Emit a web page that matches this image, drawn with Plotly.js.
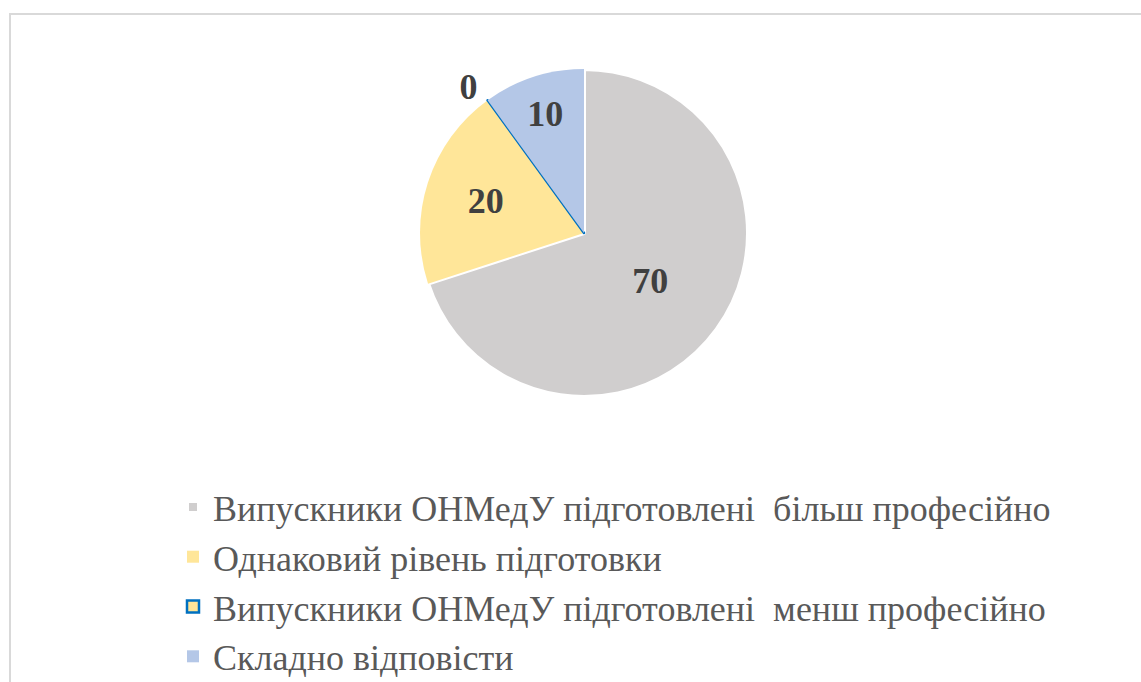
<!DOCTYPE html>
<html>
<head>
<meta charset="utf-8">
<script src="https://cdn.plot.ly/plotly-3.0.1.min.js"></script>
<style>
html,body{margin:0;padding:0;background:#fff;}
#chart{width:1141px;height:682px;}
</style>
</head>
<body>
<div id="chart"></div>
<script>
const labels = [
  "Випускники ОНМедУ підготовлені  більш професійно",
  "Однаковий рівень підготовки",
  "Випускники ОНМедУ підготовлені  менш професійно",
  "Складно відповісти"
];
const values = [70, 20, 0, 10];
const colors = ["#d0cece", "#ffe699", "#ffe699", "#b4c7e7"];
const lineColors = ["#ffffff", "#ffffff", "#0070c0", "#ffffff"];
const lineWidths = [4, 0, 2.5, 0];

const W = 1141, H = 682;
const cx = 584, cy = 233, r = 164;

const trace = {
  type: "pie",
  labels: labels,
  values: values,
  sort: false,
  direction: "clockwise",
  rotation: 0,
  marker: {colors: colors, line: {color: lineColors, width: lineWidths}},
  textinfo: "value",
  textposition: ["inside", "inside", "outside", "inside"],
  insidetextorientation: "horizontal",
  textfont: {family: "Liberation Serif", size: 36, color: "#404040", weight: "bold"},
  outsidetextfont: {family: "Liberation Serif", size: 36, color: "#404040", weight: "bold"},
  hoverinfo: "label+value",
  domain: {x: [(cx - r) / W, (cx + r) / W], y: [1 - (cy + r) / H, 1 - (cy - r) / H]}
};

const layout = {
  width: W, height: H,
  margin: {l: 0, r: 0, t: 0, b: 0, autoexpand: false},
  paper_bgcolor: "#ffffff",
  font: {family: "Liberation Serif", color: "#595959"},
  showlegend: true,
  legend: {
    x: 173 / W, xanchor: "left",
    y: 1 - 477 / H, yanchor: "top",
    orientation: "v",
    font: {family: "Liberation Serif", size: 36, color: "#595959"},
    bgcolor: "rgba(0,0,0,0)",
    tracegroupgap: 0,
    traceorder: "normal"
  },
  shapes: [{
    type: "rect", xref: "paper", yref: "paper",
    x0: 10 / W, x1: 1.02, y0: -0.02, y1: 1 - 14 / H,
    line: {color: "#d9d9d9", width: 2}
  }]
};

Plotly.newPlot("chart", [trace], layout, {displayModeBar: false, staticPlot: true});
</script>
</body>
</html>
